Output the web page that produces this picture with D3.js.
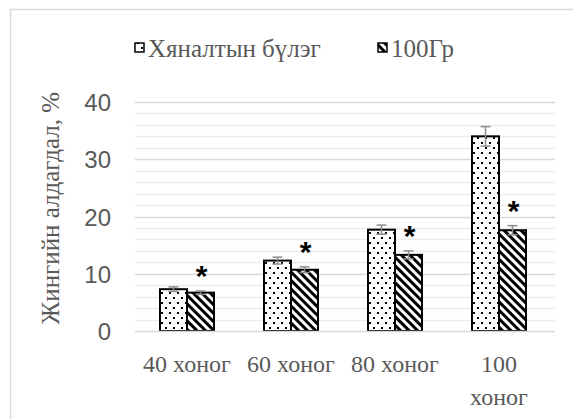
<!DOCTYPE html>
<html>
<head>
<meta charset="utf-8">
<script src="https://cdn.jsdelivr.net/npm/d3@7"></script>
<style>
  html, body { margin: 0; padding: 0; background: #fff; }
  svg { display: block; }
</style>
</head>
<body>
<script>
// Chart data
const categories = ["40 хоног", "60 хоног", "80 хоног", "100 хоног"];
const seriesNames = ["Хяналтын бүлэг", "100Гр"];
const controlValues = [7.3, 12.3, 17.7, 34.0];
const controlErrors = [0.4, 0.6, 0.8, 1.7];
const treatedValues = [6.7, 10.7, 13.3, 17.6];
const treatedErrors = [0.3, 0.5, 0.7, 0.8];
const significant = [true, true, true, true];
const yTicks = [0, 10, 20, 30, 40];
const yTitle = "Жингийн алдагдал, %";

const SERIF = "'Liberation Serif', 'Times New Roman', Tinos";
const SANS = "'Liberation Sans', Arial, Arimo";

const W = 573, H = 419;
const svg = d3.select("body").append("svg").attr("width", W).attr("height", H);

// Patterns: dotted fill and diagonal stripes
const defs = svg.append("defs");
const dots = defs.append("pattern").attr("id", "dots")
  .attr("patternUnits", "userSpaceOnUse").attr("width", 8).attr("height", 10);
dots.append("rect").attr("width", 8).attr("height", 10).attr("fill", "#fff");
dots.append("rect").attr("x", 1).attr("y", 2).attr("width", 2).attr("height", 2).attr("fill", "#000");
dots.append("rect").attr("x", 5).attr("y", 7).attr("width", 2).attr("height", 2).attr("fill", "#000");

const stripes = defs.append("pattern").attr("id", "stripes")
  .attr("patternUnits", "userSpaceOnUse").attr("width", 6).attr("height", 6)
  .attr("patternTransform", "rotate(-45)");
stripes.append("rect").attr("width", 6).attr("height", 6).attr("fill", "#fff");
stripes.append("rect").attr("width", 3).attr("height", 6).attr("fill", "#000");

// Outer frame
svg.append("rect").attr("x", 10.5).attr("y", 9.5).attr("width", W + 20).attr("height", H + 20)
  .attr("fill", "none").attr("stroke", "#d9d9d9").attr("stroke-width", 1.5);

const x = d3.scaleBand().domain(categories).range([135, 551]);
const y = d3.scaleLinear().domain([0, 40]).range([331, 102]);

// Minor gridlines
const minor = d3.range(2, 40, 2).filter(v => v % 10 !== 0);
svg.append("g").selectAll("line").data(minor).join("line")
  .attr("x1", 135).attr("x2", 555)
  .attr("y1", d => Math.round(y(d)) + 0.5).attr("y2", d => Math.round(y(d)) + 0.5)
  .attr("stroke", "#ececec").attr("stroke-width", 1.5);
// Major gridlines
svg.append("g").selectAll("line").data(yTicks.filter(v => v > 0)).join("line")
  .attr("x1", 135).attr("x2", 555)
  .attr("y1", d => Math.round(y(d)) + 0.5).attr("y2", d => Math.round(y(d)) + 0.5)
  .attr("stroke", "#d9d9d9").attr("stroke-width", 1.5);

// Y axis labels
const yAxis = d3.axisLeft(y).tickValues(yTicks).tickSize(0).tickPadding(0);
const gy = svg.append("g").attr("transform", "translate(111,0)").call(yAxis);
gy.select(".domain").remove();
gy.selectAll("text")
  .style("font-family", SANS).style("font-size", "24px")
  .attr("fill", "#595959").attr("dy", "0.36em");

// Y title
svg.append("text")
  .attr("transform", "translate(59,208) rotate(-90)")
  .attr("text-anchor", "middle")
  .style("font-family", SERIF).style("font-size", "25px")
  .attr("fill", "#595959")
  .text(yTitle);

// Bars
const barW = 27;
categories.forEach((c, i) => {
  const cx = x(c) + x.bandwidth() / 2;
  const g = svg.append("g");
  const bars = [
    { v: controlValues[i], e: controlErrors[i], x0: cx - barW, fill: "url(#dots)" },
    { v: treatedValues[i], e: treatedErrors[i], x0: cx, fill: "url(#stripes)" }
  ];
  bars.forEach(b => {
    g.append("rect").attr("x", b.x0).attr("y", y(b.v))
      .attr("width", barW).attr("height", y(0) - y(b.v))
      .attr("fill", b.fill).attr("stroke", "#000").attr("stroke-width", 2);
  });
  bars.forEach(b => {
    const bx = b.x0 + barW / 2;
    const eg = g.append("g").attr("stroke", "#8c8c8c").attr("stroke-width", 1.5);
    eg.append("line").attr("x1", bx).attr("x2", bx).attr("y1", y(b.v + b.e)).attr("y2", y(b.v - b.e));
    eg.append("line").attr("x1", bx - 5).attr("x2", bx + 5).attr("y1", y(b.v + b.e)).attr("y2", y(b.v + b.e));
    eg.append("line").attr("x1", bx - 5).attr("x2", bx + 5).attr("y1", y(b.v - b.e)).attr("y2", y(b.v - b.e));
  });
  if (significant[i]) {
    g.append("text")
      .attr("x", cx + barW / 2 + 1).attr("y", y(treatedValues[i] + treatedErrors[i]) - 5)
      .attr("text-anchor", "middle")
      .style("font-family", SANS).style("font-size", "30px").style("font-weight", "bold")
      .attr("fill", "#000").text("*");
  }
});

// X baseline
svg.append("line").attr("x1", 135).attr("x2", 555)
  .attr("y1", 331.5).attr("y2", 331.5).attr("stroke", "#d9d9d9").attr("stroke-width", 1.5);

// X labels (wrap the last one onto two lines)
categories.forEach((c, i) => {
  const cx = x(c) + x.bandwidth() / 2;
  const t = svg.append("text").attr("x", cx).attr("y", 372)
    .attr("text-anchor", "middle").attr("fill", "#595959")
    .style("font-family", SERIF).style("font-size", "24px");
  if (i === categories.length - 1) {
    const parts = c.split(" ");
    t.append("tspan").attr("x", cx).attr("dy", 0).text(parts[0]);
    t.append("tspan").attr("x", cx).attr("dy", 33).text(parts[1]);
  } else {
    t.text(c);
  }
});

// Legend
const legItems = [
  { name: seriesNames[0], fill: "url(#dots)", x: 134 },
  { name: seriesNames[1], fill: "url(#stripes)", x: 377 }
];
legItems.forEach(d => {
  svg.append("rect").attr("x", d.x + 1).attr("y", 43).attr("width", 9).attr("height", 9)
    .attr("fill", d.fill).attr("stroke", "#000").attr("stroke-width", 1.5);
  svg.append("text").attr("x", d.x + 14).attr("y", 57)
    .style("font-family", SERIF).style("font-size", "25px")
    .attr("fill", "#595959").text(d.name);
});
</script>
</body>
</html>
